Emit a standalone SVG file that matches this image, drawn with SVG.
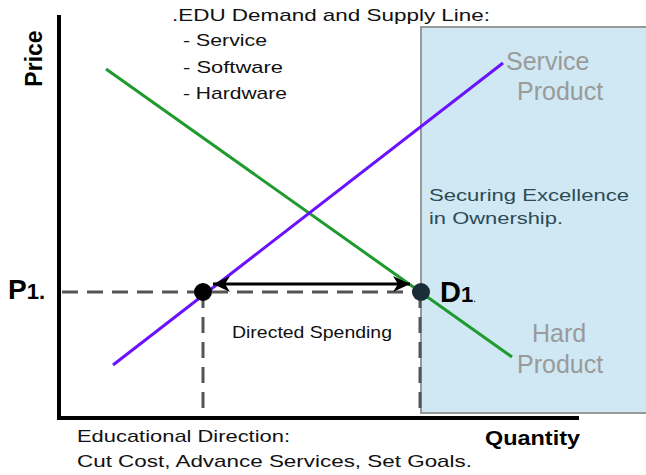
<svg xmlns="http://www.w3.org/2000/svg" width="646" height="475" viewBox="0 0 646 475">
<style>
.px{font-family:"Liberation Sans",Arial,sans-serif;font-size:17px;fill:#111}
.gl{font-family:"Liberation Sans",Arial,sans-serif;font-size:25px;fill:#9a9a9a}
.bd{font-family:"Liberation Sans",Arial,sans-serif;font-weight:bold;fill:#000}
.dash{stroke:#555;stroke-width:3;stroke-dasharray:16 9;fill:none}
.axis{stroke:#000;stroke-width:4;fill:none}
</style>
<defs>
<marker id="ah" markerUnits="userSpaceOnUse" markerWidth="18" markerHeight="16" refX="17" refY="8" orient="auto-start-reverse">
<path d="M0,0 L17,8 L0,16 L5,8 Z" fill="#000"/>
</marker>
</defs>
<rect width="646" height="475" fill="#fff"/>
<g id="region">
<rect x="421" y="27" width="230" height="386" fill="#cfe8f3" stroke="#999" stroke-width="2"/>
<text class="px" x="429" y="201" style="fill:#2d4a55" textLength="200" lengthAdjust="spacingAndGlyphs">Securing Excellence</text>
<text class="px" x="429" y="224" style="fill:#2d4a55" textLength="134" lengthAdjust="spacingAndGlyphs">in Ownership.</text>
</g>
<g id="axes">
<line class="axis" x1="59" y1="15" x2="59" y2="420"/>
<line class="axis" x1="57" y1="418" x2="579" y2="418"/>
<text class="bd" font-size="23" transform="translate(42,58.5) rotate(-90)" text-anchor="middle">Price</text>
<text class="bd" font-size="20" x="485" y="445" textLength="95" lengthAdjust="spacingAndGlyphs">Quantity</text>
</g>
<g id="title">
<text class="px" x="172" y="21" textLength="318" lengthAdjust="spacingAndGlyphs">.EDU Demand and Supply Line:</text>
<text class="px" x="183" y="46" textLength="84" lengthAdjust="spacingAndGlyphs">- Service</text>
<text class="px" x="183" y="73" textLength="100" lengthAdjust="spacingAndGlyphs">- Software</text>
<text class="px" x="183" y="99" textLength="104" lengthAdjust="spacingAndGlyphs">- Hardware</text>
</g>
<g id="connectors">
<line class="dash" x1="62" y1="292" x2="420" y2="292"/>
<line class="dash" x1="203" y1="292" x2="203" y2="417"/>
<line class="dash" x1="420" y1="292" x2="420" y2="413"/>
<line x1="106" y1="69" x2="512" y2="357" stroke="#1e9a2e" stroke-width="3"/>
<line x1="113" y1="365" x2="503" y2="63" stroke="#6a12ff" stroke-width="3"/>
<line x1="213" y1="284" x2="410" y2="284" stroke="#000" stroke-width="3" marker-start="url(#ah)" marker-end="url(#ah)"/>
</g>
<g id="service-product">
<text class="gl" x="506" y="70">Service</text>
<text class="gl" x="517" y="100">Product</text>
</g>
<g id="hard-product">
<text class="gl" x="532" y="342">Hard</text>
<text class="gl" x="517" y="373">Product</text>
</g>
<g id="p1">
<circle cx="203" cy="292" r="9" fill="#000"/>
<text class="bd" x="8" y="299"><tspan font-size="28">P</tspan><tspan font-size="22">1.</tspan></text>
</g>
<g id="d1">
<circle cx="421" cy="292" r="9" fill="#1a2e38"/>
<text class="bd" x="440" y="302"><tspan font-size="29">D</tspan><tspan font-size="22">1</tspan><tspan font-size="10" font-weight="normal">.</tspan></text>
</g>
<g id="spending">
<text class="px" x="232" y="338" textLength="160" lengthAdjust="spacingAndGlyphs">Directed Spending</text>
</g>
<g id="footer">
<text class="px" x="77" y="442" textLength="213" lengthAdjust="spacingAndGlyphs">Educational Direction:</text>
<text class="px" x="77" y="467" textLength="395" lengthAdjust="spacingAndGlyphs">Cut Cost, Advance Services, Set Goals.</text>
</g>
</svg>
